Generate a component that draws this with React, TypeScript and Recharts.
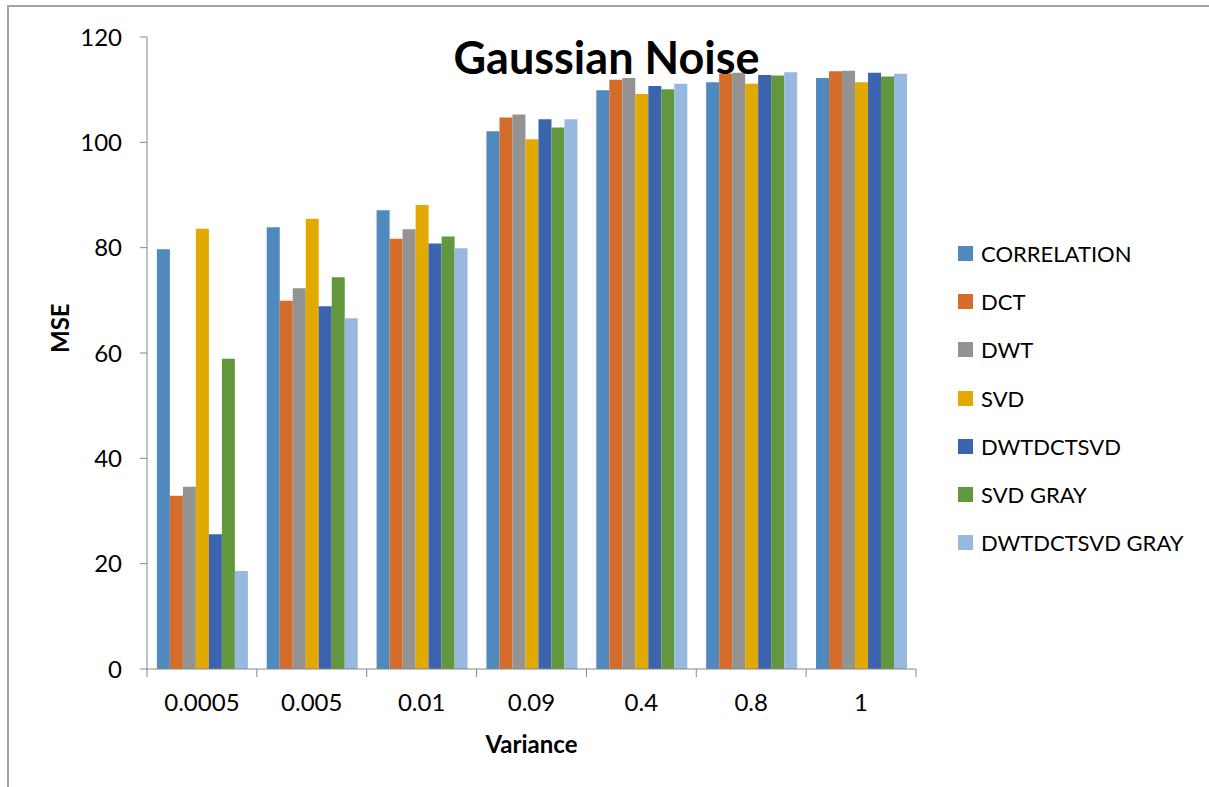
import { BarChart, Bar, XAxis, YAxis } from 'recharts';

const variances = ['0.0005', '0.005', '0.01', '0.09', '0.4', '0.8', '1'];

const correlation = [79.7, 83.9, 87.1, 102.1, 109.9, 111.4, 112.2];
const dct = [32.9, 69.9, 81.7, 104.7, 111.9, 113.0, 113.5];
const dwt = [34.6, 72.3, 83.5, 105.3, 112.2, 113.2, 113.6];
const svd = [83.6, 85.5, 88.1, 100.6, 109.2, 111.1, 111.4];
const dwtdctsvd = [25.6, 68.9, 80.8, 104.4, 110.7, 112.8, 113.2];
const svdGray = [58.9, 74.4, 82.1, 102.8, 110.1, 112.7, 112.5];
const dwtdctsvdGray = [18.6, 66.6, 79.9, 104.4, 111.1, 113.3, 113.0];

const yTicks = [0, 20, 40, 60, 80, 100, 120];

const series = [
  { key: 'correlation', name: 'CORRELATION', color: '#4f89bd', values: correlation },
  { key: 'dct', name: 'DCT', color: '#d46d2a', values: dct },
  { key: 'dwt', name: 'DWT', color: '#939393', values: dwt },
  { key: 'svd', name: 'SVD', color: '#e2aa00', values: svd },
  { key: 'dwtdctsvd', name: 'DWTDCTSVD', color: '#3c64ae', values: dwtdctsvd },
  { key: 'svdGray', name: 'SVD GRAY', color: '#63973e', values: svdGray },
  { key: 'dwtdctsvdGray', name: 'DWTDCTSVD GRAY', color: '#97b9e0', values: dwtdctsvdGray },
];

const data = variances.map((v, i) => {
  const row: Record<string, string | number> = { variance: v };
  series.forEach((s) => (row[s.key] = s.values[i]));
  return row;
});

const FONT = 'Lato, "Open Sans", sans-serif';
const AXIS = '#868686';
const W = 1209;
const H = 787;
const M = { top: 37, right: 293, bottom: 0, left: 0 };
const Y_AXIS_W = 147;
const X_AXIS_H = 118;
const BAND = (W - M.left - Y_AXIS_W - M.right) / variances.length;

// category label plus tick marks at the band edges
const XTick = (props: any) => {
  const { x, y, payload, index } = props;
  const axisY = y - 8;
  const left = x - BAND / 2;
  const right = x + BAND / 2;
  return (
    <g>
      <line x1={left} y1={axisY} x2={left} y2={axisY + 8} stroke={AXIS} strokeWidth={1} />
      {index === variances.length - 1 && (
        <line x1={right} y1={axisY} x2={right} y2={axisY + 8} stroke={AXIS} strokeWidth={1} />
      )}
      <text x={x} y={y + 34} textAnchor="middle" fontSize={24} fontFamily={FONT} fill="#000">
        {payload.value}
      </text>
    </g>
  );
};

const Legend = () => (
  <div style={{ position: 'absolute', left: 958, top: 229, fontFamily: FONT }}>
    {series.map((s) => (
      <div key={s.key} style={{ display: 'flex', alignItems: 'center', height: 48.3 }}>
        <div style={{ width: 15, height: 15, background: s.color, marginRight: 8 }} />
        <span style={{ fontSize: 22, color: '#000', whiteSpace: 'nowrap' }}>{s.name}</span>
      </div>
    ))}
  </div>
);

export default function App() {
  return (
    <div
      style={{
        position: 'fixed',
        left: 0,
        top: 0,
        width: W,
        height: H,
        overflow: 'hidden',
        background: '#fff',
      }}
    >
      <div
        style={{
          position: 'absolute',
          left: 7,
          top: 5,
          width: W + 20,
          height: H + 20,
          borderTop: '2px solid #a3a3a3',
          borderLeft: '2px solid #a3a3a3',
        }}
      />
      <div style={{ position: 'absolute', left: 0, top: 0 }}>
        <BarChart
          width={W}
          height={H}
          data={data}
          margin={M}
          barGap={0}
          barCategoryGap="9%"
        >
          <XAxis
            dataKey="variance"
            height={X_AXIS_H}
            stroke={AXIS}
            tickLine={false}
            tickSize={8}
            tickMargin={0}
            interval={0}
            tick={<XTick />}
            label={{
              value: 'Variance',
              position: 'insideBottom',
              offset: 34,
              fontSize: 24,
              fontWeight: 700,
              fontFamily: FONT,
              fill: '#000',
            }}
          />
          <YAxis
            width={Y_AXIS_W}
            domain={[0, 120]}
            ticks={yTicks}
            interval={0}
            stroke={AXIS}
            tickSize={7}
            tickMargin={18}
            tick={{ fontSize: 24, fontFamily: FONT, fill: '#000' }}
            label={{
              value: 'MSE',
              angle: -90,
              position: 'insideLeft',
              offset: 60,
              fontSize: 24,
              fontWeight: 700,
              fontFamily: FONT,
              fill: '#000',
            }}
          />
          {series.map((s) => (
            <Bar key={s.key} dataKey={s.key} name={s.name} fill={s.color} isAnimationActive={false} />
          ))}
        </BarChart>
      </div>
      {/* title sits above the bars */}
      <div
        style={{
          position: 'absolute',
          left: 0,
          width: W,
          top: 31,
          textAlign: 'center',
          paddingLeft: 2,
          fontFamily: FONT,
          fontWeight: 700,
          fontSize: 45,
          color: '#000',
          lineHeight: '52px',
          pointerEvents: 'none',
        }}
      >
        Gaussian Noise
      </div>
      <Legend />
    </div>
  );
}
